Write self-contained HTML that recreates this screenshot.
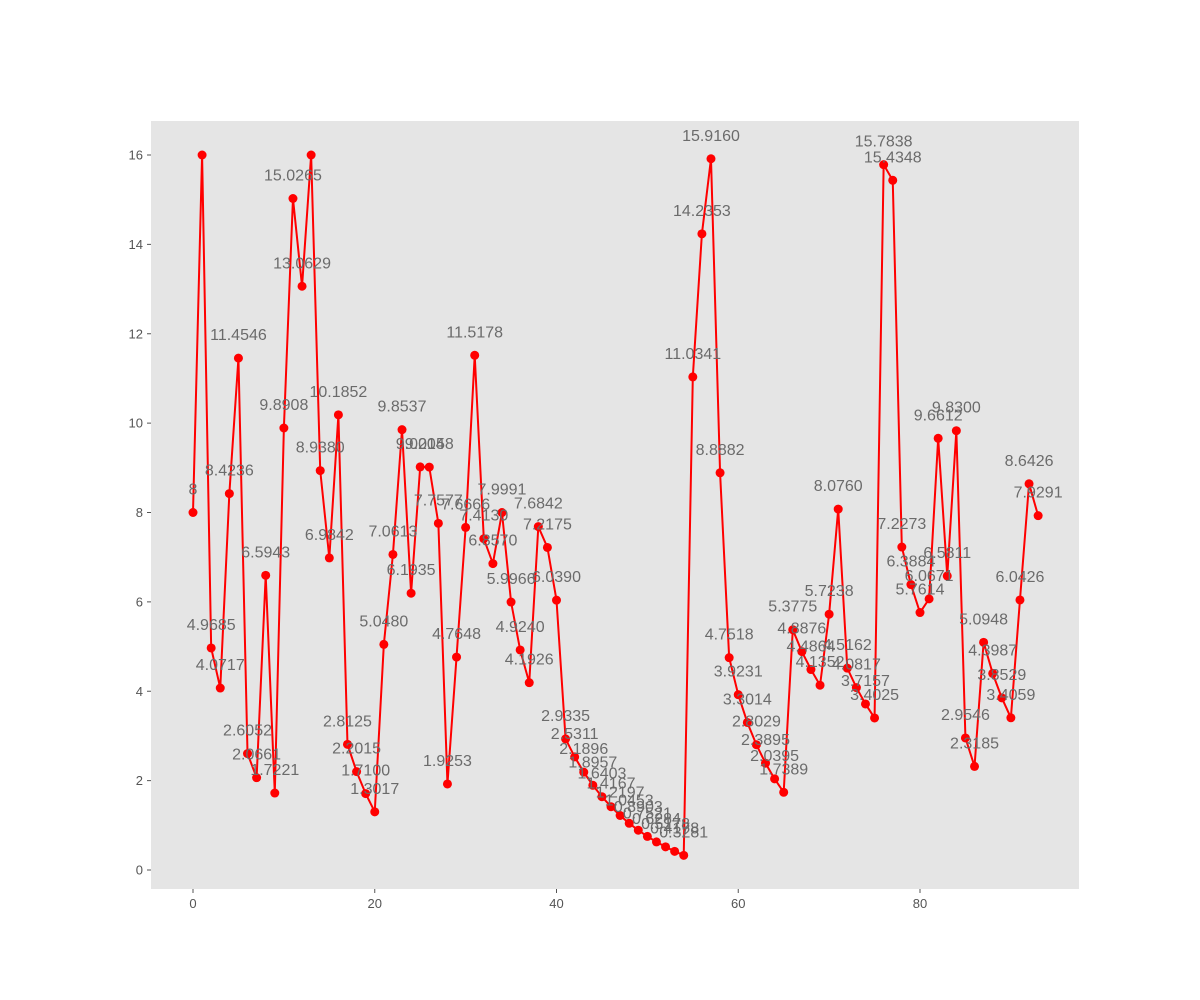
<!DOCTYPE html>
<html><head><meta charset="utf-8"><style>
body{margin:0;background:#fff;}
svg{display:block;font-family:"Liberation Sans","DejaVu Sans",sans-serif;}
</style></head><body>
<svg id="chart" width="1200" height="1000"></svg>
<script>
const xValues = Array.from({length:94},(_,i)=>i);
const yValues = [8,16,4.9685,4.0717,8.4236,11.4546,2.6052,2.0661,6.5943,1.7221,9.8908,15.0265,13.0629,16,8.9380,6.9842,10.1852,2.8125,2.2015,1.7100,1.3017,5.0480,7.0613,9.8537,6.1935,9.0204,9.0158,7.7577,1.9253,4.7648,7.6666,11.5178,7.4130,6.8570,7.9991,5.9966,4.9240,4.1926,7.6842,7.2175,6.0390,2.9335,2.5311,2.1896,1.8957,1.6403,1.4167,1.2197,1.0453,0.8903,0.7521,0.6284,0.5178,0.4178,0.3281,11.0341,14.2353,15.9160,8.8882,4.7518,3.9231,3.3014,2.8029,2.3895,2.0395,1.7389,5.3775,4.8876,4.4864,4.1352,5.7238,8.0760,4.5162,4.0817,3.7157,3.4025,15.7838,15.4348,7.2273,6.3884,5.7614,6.0671,9.6612,6.5811,9.8300,2.9546,2.3185,5.0948,4.3987,3.8529,3.4059,6.0426,8.6426,7.9291];
const xTicks = [0,20,40,60,80];
const yTicks = [0,2,4,6,8,10,12,14,16];

const NS="http://www.w3.org/2000/svg";
const svg=document.getElementById('chart');
const L=151,R=1079,T=121,B=889;
const X=v=>193+v*(920-193)/80;
const Y=v=>870-v*(870-155)/16;
function mk(t,a,p){const e=document.createElementNS(NS,t);for(const k in a)e.setAttribute(k,a[k]);(p||svg).appendChild(e);return e;}

const bg=mk('rect',{x:L,y:T,width:R-L,height:B-T,fill:'#E5E5E5'});



const xa=mk('g',{});


xTicks.forEach(v=>{
  mk('line',{x1:X(v),x2:X(v),y1:B,y2:B+4,stroke:'#555','stroke-width':1},xa);
  const t=mk('text',{x:X(v),y:B+19,'text-anchor':'middle','font-size':13,fill:'#555'},xa);
  t.textContent=v;
  
  
});
const ya=mk('g',{});


yTicks.forEach(v=>{
  mk('line',{x1:L-4,x2:L,y1:Y(v),y2:Y(v),stroke:'#555','stroke-width':1},ya);
  const t=mk('text',{x:L-8,y:Y(v)+4.5,'text-anchor':'end','font-size':13,fill:'#555'},ya);
  t.textContent=v;
  
  
});

const line=mk('polyline',{points:xValues.map((x,i)=>X(x)+','+Y(yValues[i])).join(' '),fill:'none',stroke:'#FF0000','stroke-width':2});



xValues.forEach((x,i)=>{
  const c=mk('circle',{cx:X(x),cy:Y(yValues[i]),r:4.5,fill:'#FF0000'});
  
  
});
xValues.forEach((x,i)=>{
  const v=yValues[i];
  if(v>=16)return;
  const t=mk('text',{x:X(x),y:Y(v)-18,'text-anchor':'middle','font-size':16,fill:'#6b6b6b'});
  t.textContent=Number.isInteger(v)?String(v):v.toFixed(4);
  
  
});
</script>
</body></html>
